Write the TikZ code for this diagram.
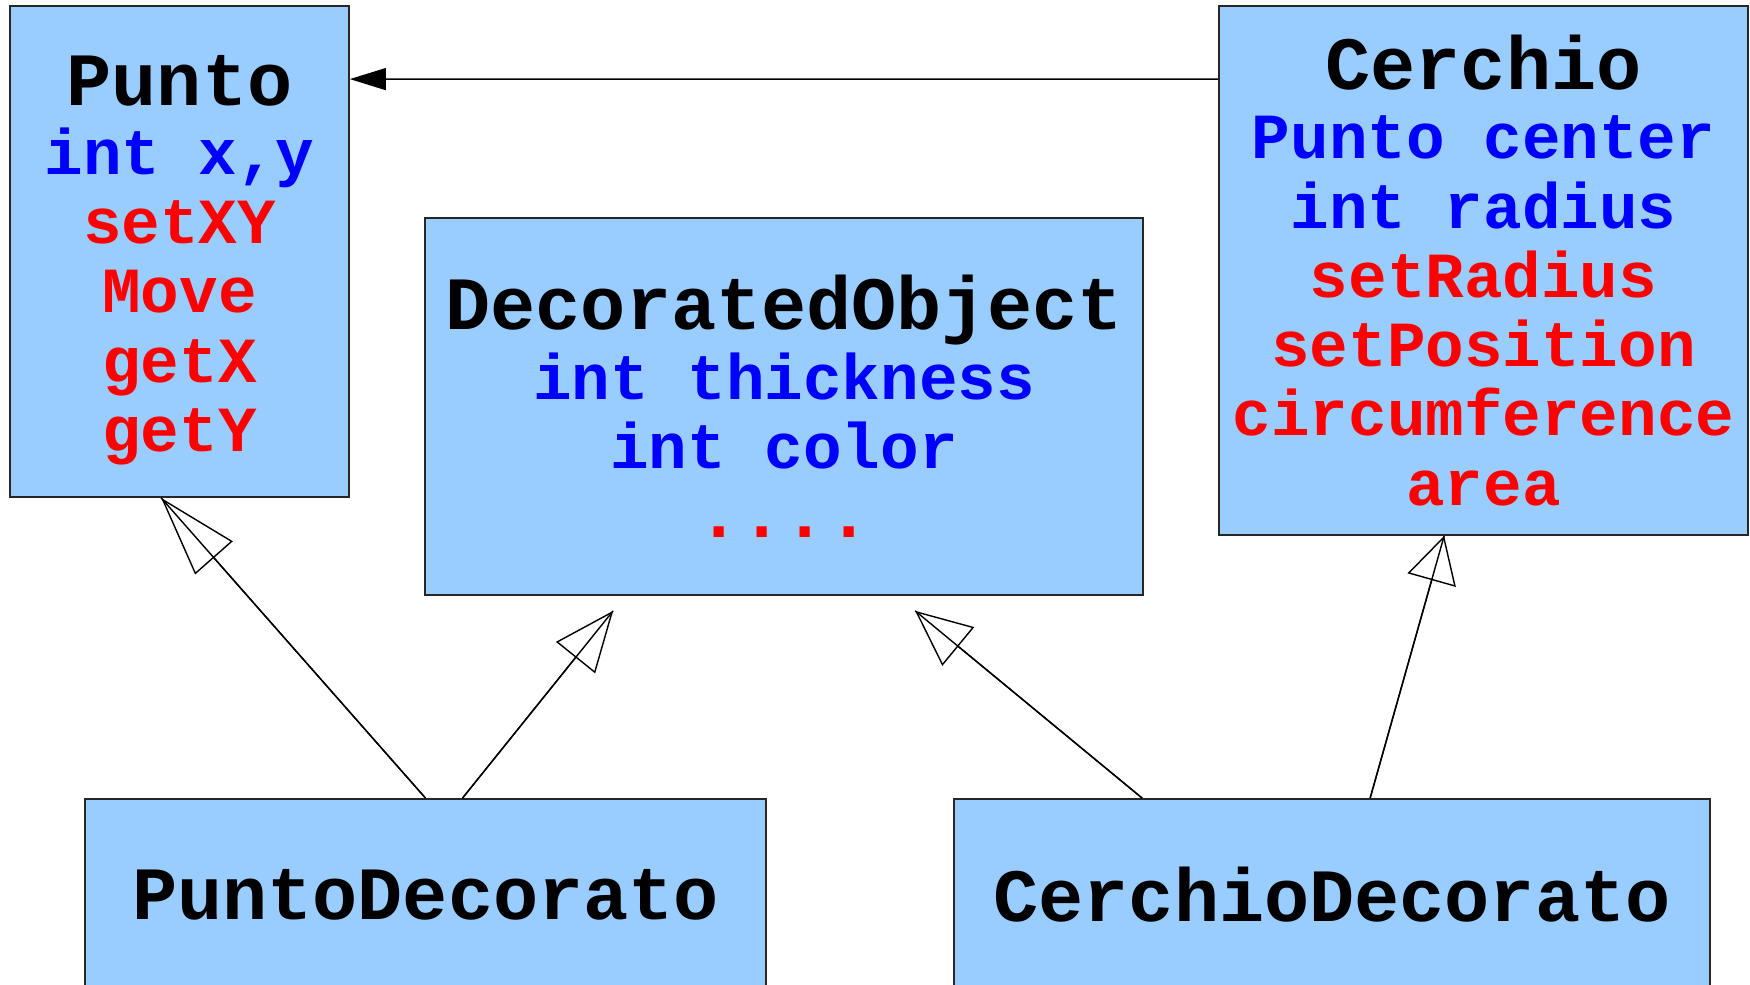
\documentclass[tikz,border=0pt]{standalone}
\usepackage{fontspec}
\setmonofont{Liberation Mono}
\usepackage{tikz}
\usetikzlibrary{arrows.meta, calc}
\definecolor{Sky}{HTML}{99CCFF}
\definecolor{AttrBlue}{HTML}{0000FF}
\definecolor{MethRed}{HTML}{FF0000}
\newcommand{\cname}[1]{{\fontsize{21.4}{19.7}\selectfont #1}}
\newcommand{\attr}[1]{\textcolor{AttrBlue}{#1}}
\newcommand{\meth}[1]{\textcolor{MethRed}{#1}}

\begin{document}
\begin{tikzpicture}[
        font=\ttfamily\bfseries\fontsize{18.3}{19.7}\selectfont,
        cls/.style={draw=black!85, fill=Sky, line width=0.5pt, align=center, inner sep=2pt},
        assoc/.style={-{Triangle[length=3.6mm,width=2.2mm]}, line width=0.4pt},
        gen/.style={-{Triangle[open,length=#1,width=5mm]}, line width=0.4pt, postaction={draw,-}},
        gen/.default=6mm
      ]
        \useasboundingbox (0,0) rectangle (17.5,9.85);
        \clip (0,0) rectangle (17.5,9.85);
        \node[cls, minimum width=3.39cm, minimum height=4.91cm] (punto) at (1.795,7.335)
          {\rule{0pt}{0.67cm}\cname{Punto}\\\attr{int x,y}\\\meth{setXY}\\\meth{Move}\\\meth{getX}\\\meth{getY}};
        \node[cls, minimum width=5.29cm, minimum height=5.29cm] (cerchio) at (14.835,7.145)
          {\cname{Cerchio}\\\attr{Punto center}\\\attr{int radius}\\\meth{setRadius}\\\meth{setPosition}\\\meth{circumference}\\\meth{area}};
        \node[cls, minimum width=7.18cm, minimum height=3.77cm] (deco) at (7.84,5.785)
          {\cname{DecoratedObject}\\\attr{int thickness}\\\attr{int color}\\\meth{\fontsize{20.5}{19.7}\selectfont ....}};
        \node[cls, minimum width=6.81cm, minimum height=1.91cm] (pdec) at (4.255,0.905) {\cname{PuntoDecorato}};
        \node[cls, minimum width=7.56cm, minimum height=1.91cm] (cdec) at (13.32,0.905) {\cname{CerchioDecorato}};
        \coordinate (decoL) at ([shift={(1.89,-0.15)}]deco.south west);
        \coordinate (decoR) at ([shift={(4.91,-0.15)}]deco.south west);
        \draw[assoc] ([yshift=-7.4mm]cerchio.north west) -- ([yshift=-7.4mm]punto.north east);
        \draw[gen=8mm] (pdec.north) -- ([xshift=15.2mm]punto.south west);
        \draw[gen] ([xshift=3.7mm]pdec.north) -- (decoL);
        \draw[gen=5.6mm] ([xshift=18.9mm]cdec.north west) -- (decoR);
        \draw[gen=4.6mm] ([xshift=41.7mm]cdec.north west) -- ([xshift=22.6mm]cerchio.south west);
      \end{tikzpicture}
\end{document}
